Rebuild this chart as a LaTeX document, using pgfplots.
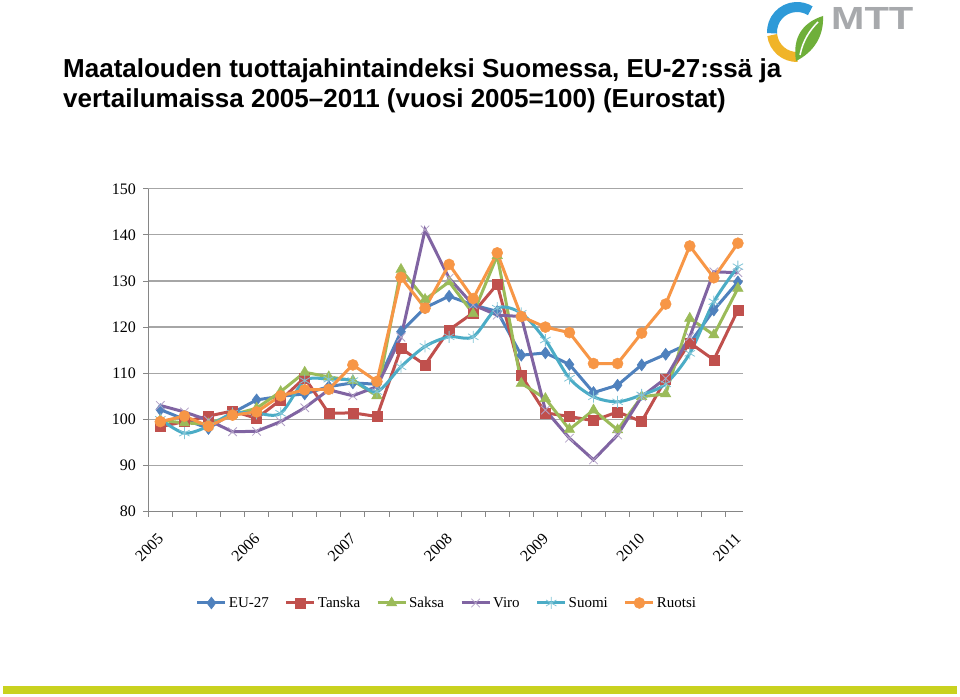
\documentclass[border=0pt]{standalone}
\usepackage{pgfplots}
\pgfplotsset{compat=1.18}
\usepackage{pgfplotstable}
\usepackage{graphicx}
\usepackage{fontspec}
\setmainfont{Liberation Serif}
\newfontfamily\arialfont{Liberation Sans}
\definecolor{cEU}{HTML}{4F81BD}
\definecolor{cTA}{HTML}{C0504D}
\definecolor{cSA}{HTML}{9BBB59}
\definecolor{cVI}{HTML}{8064A2}
\definecolor{cSU}{HTML}{4BACC6}
\definecolor{cRU}{HTML}{F79646}
\definecolor{gridc}{HTML}{A6A6A6}
\definecolor{axisc}{HTML}{868686}
\definecolor{barc}{HTML}{C9D21F}
\definecolor{logob}{HTML}{2E9AD8}
\definecolor{logoy}{HTML}{F0B429}
\definecolor{logog}{HTML}{6FAF3A}
\definecolor{logot}{HTML}{A7A9AC}

\pgfplotstableread{
i EU TA SA VI SU RU
0 102.1 98.4 99.8 103.0 100.0 99.5
1 100.0 99.5 99.2 101.6 97.0 100.7
2 98.0 100.7 99.0 99.8 98.5 98.5
3 101.4 101.8 101.0 97.3 101.3 100.9
4 104.2 100.2 102.4 97.4 101.3 101.6
5 105.0 104.2 106.0 99.5 101.3 105.1
6 105.5 109.0 110.2 102.5 108.4 106.4
7 107.1 101.3 109.2 106.4 108.7 106.5
8 107.9 101.4 108.4 105.1 108.4 111.8
9 107.6 100.6 105.1 107.1 106.0 108.2
10 119.0 115.4 132.5 117.8 111.4 130.8
11 124.2 111.8 126.0 141.1 115.8 124.1
12 126.7 119.4 129.8 130.6 117.9 133.6
13 124.8 123.1 122.9 124.8 117.9 126.2
14 123.4 129.3 135.5 122.6 124.1 136.1
15 113.9 109.5 107.8 122.3 123.0 122.3
16 114.4 101.4 104.5 102.0 117.2 120.0
17 111.9 100.6 97.8 95.9 108.9 118.8
18 105.8 99.7 102.0 91.2 104.9 112.1
19 107.4 101.6 97.7 96.6 103.8 112.1
20 111.8 99.5 104.9 104.9 105.3 118.7
21 114.1 108.7 105.5 108.9 107.7 125.0
22 116.5 116.6 121.9 117.9 114.3 137.6
23 123.7 112.9 118.3 132.0 125.5 130.7
24 129.8 123.7 128.4 131.8 133.1 138.2
}\data

\begin{document}
\begin{tikzpicture}[x=1pt,y=1pt]
\fill[white] (0,0) rectangle (960,696);
\useasboundingbox (0,0) rectangle (960,696);
% title
\node[anchor=base west, inner sep=0, font=\arialfont\bfseries\fontsize{26}{30}\selectfont] at (63,{696-77.5}) {Maatalouden tuottajahintaindeksi Suomessa, EU-27:ssä ja};
\node[anchor=base west, inner sep=0, font=\arialfont\bfseries\fontsize{26}{30}\selectfont] at (63,{696-107.5}) {vertailumaissa 2005–2011 (vuosi 2005=100) (Eurostat)};
% logo
\draw[logob, line width=10] ([shift={(183:25)}]797,664) arc (183:58:25);
\draw[logoy, line width=10] ([shift={(187:25)}]797,664) arc (187:272:25);
\fill[logog] (796,{696-61}) .. controls (792,{696-36}) and (804,{696-22}) .. (823,{696-16}) .. controls (824,{696-36}) and (814,{696-52}) .. cycle;
\draw[white, line width=1.5] (800,{696-55}) .. controls (803,{696-40}) and (810,{696-30}) .. (818,{696-22});
\node[anchor=base west, inner sep=0, font=\arialfont\bfseries\fontsize{32}{32}\selectfont, text=logot] at (831,{696-29.5}) {\scalebox{1.25}[1]{MTT}};
% bottom bar
\fill[barc] (3,{696-694}) rectangle (957,{696-686});

\begin{axis}[
  at={(148.3pt,184.5pt)}, anchor=south west,
  scale only axis, width=594.4pt, height=322.7pt,
  xmin=-0.5, xmax=24.2, ymin=80, ymax=150,
  ytick={80,90,...,150},
  xtick={-0.5,3.5,...,23.5},
  xticklabels={2005,2006,2007,2008,2009,2010,2011},
  minor xtick={0.5,1.5,...,23.5},
  axis x line*=bottom, axis y line*=left,
  axis line style={axisc, line width=1pt},
  tick align=outside, major tick length=5pt, minor tick length=5pt,
  tick style={axisc, line width=0.8pt},
  ymajorgrids, grid style={gridc, line width=1.2pt},
  /pgf/number format/assume math mode=true,
  yticklabel style={font=\fontsize{16}{16}\selectfont, xshift=-4pt},
  xticklabel style={font=\fontsize{16}{16}\selectfont, anchor=center, xshift=1pt, yshift=-31pt, rotate=45},
  legend style={at={(0.5025,-0.2835)}, anchor=center, draw=none, fill=none, legend columns=-1,
    font=\fontsize{15}{15}\selectfont, /tikz/every even column/.append style={column sep=14pt}},
  legend image code/.code={\draw[mark repeat=2,mark phase=2] plot coordinates {(0pt,0pt) (14pt,0pt) (28pt,0pt)};},
  clip=false,
]
\addplot[cEU, line width=3pt, mark=diamond*, mark size=6pt, mark options={solid, fill=cEU, line width=0.5pt}] table[x=i,y=EU]{\data};
\addlegendentry{EU-27}
\addplot[cTA, line width=3pt, mark=square*, mark size=5pt, mark options={solid, fill=cTA, line width=0.5pt}] table[x=i,y=TA]{\data};
\addlegendentry{Tanska}
\addplot[cSA, line width=3pt, mark=triangle*, mark size=6pt, mark options={solid, fill=cSA, line width=0.5pt}] table[x=i,y=SA]{\data};
\addlegendentry{Saksa}
\addplot[cVI, line width=3pt, mark=x, mark size=6pt, mark options={solid, draw=cVI!60!white, line width=0.8pt}] table[x=i,y=VI]{\data};
\addlegendentry{Viro}
\addplot[cSU, line width=3pt, smooth, tension=0.5, mark=asterisk, mark size=6pt, mark options={solid, draw=cSU!70!white, line width=0.8pt}] table[x=i,y=SU]{\data};
\addlegendentry{Suomi}
\addplot[cRU, line width=3pt, mark=*, mark size=5.5pt, mark options={solid, fill=cRU, line width=0.5pt}] table[x=i,y=RU]{\data};
\addlegendentry{Ruotsi}
\end{axis}
\end{tikzpicture}
\end{document}
